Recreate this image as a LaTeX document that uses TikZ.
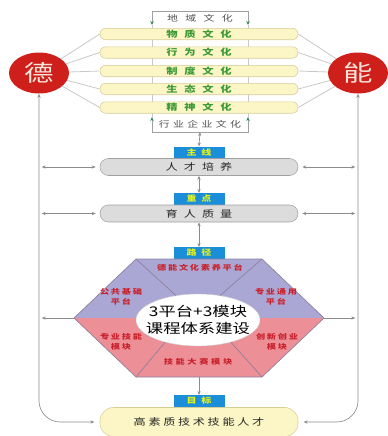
\documentclass[tikz,border=0pt]{standalone}
\usepackage{fontspec}
\usepackage{tikz}
\usetikzlibrary{arrows.meta,shapes.geometric,positioning}
\newfontfamily\cjk[FakeStretch=1.3]{Noto Sans CJK SC}
\newcommand\cgap[1][5pt]{\hspace{#1}}

\definecolor{barfill}{HTML}{FCF6C6}
\definecolor{barline}{HTML}{D6CC98}
\definecolor{cultgreen}{HTML}{3C9A35}
\definecolor{circred}{HTML}{CF1F1B}
\definecolor{sealtext}{HTML}{F8E6DC}
\definecolor{greyfill}{HTML}{DCDCDC}
\definecolor{greyline}{HTML}{A0A0A0}
\definecolor{spokegrey}{HTML}{C8C8C8}
\definecolor{linkgrey}{HTML}{8C8C8C}
\definecolor{tagblue}{HTML}{1A8ED8}
\definecolor{tagtext}{HTML}{E6F21A}
\definecolor{tipgreen}{HTML}{2E8B57}
\definecolor{hexpurple}{HTML}{ABA7D4}
\definecolor{hexpink}{HTML}{EC8F97}
\definecolor{hexline}{HTML}{8E7F9C}
\definecolor{labelred}{HTML}{C9212B}
\definecolor{regiongrey}{HTML}{505050}

\begin{document}
\begin{tikzpicture}[x=0.75pt,y=0.75pt,yscale=-1,xscale=1,
    culture/.style={draw=barline, fill=barfill, rounded corners=4.3pt, minimum width=148.5pt, minimum height=8.6pt, inner sep=0pt, text=cultgreen, font=\cjk\bfseries\fontsize{6.5}{7}\selectfont},
    corebar/.style={draw=greyline, fill=greyfill, rounded corners=6.3pt, minimum width=148.5pt, minimum height=12.75pt, inner sep=0pt, text=black!85, font=\cjk\fontsize{7}{8}\selectfont},
    finalbox/.style={draw=barline, fill=barfill, rounded corners=10pt, minimum width=148.5pt, minimum height=21.75pt, inner sep=0pt, text=black!85, font=\cjk\fontsize{7}{8}\selectfont},
    tagbox/.style={fill=tagblue, minimum width=38.25pt, minimum height=8.6pt, inner sep=0pt, text=tagtext, font=\cjk\bfseries\fontsize{5.8}{6}\selectfont},
    sealnode/.style={ellipse, fill=circred, minimum width=45pt, minimum height=30.75pt, inner sep=0pt, text=sealtext, font=\cjk\fontsize{17}{18}\selectfont},
    partlabel/.style={text=labelred, align=center, inner sep=0pt, font=\cjk\bfseries\fontsize{5.3}{7.5}\selectfont},
    greytext/.style={inner sep=0pt, text=regiongrey, font=\cjk\fontsize{6.3}{7}\selectfont},
    spoke/.style={draw=spokegrey, line width=0.6pt},
    bracket/.style={draw=greyline, line width=0.6pt, {Stealth[length=3pt,width=2.6pt,color=tipgreen]}-{Stealth[length=3pt,width=2.6pt,color=tipgreen]}},
    dlink/.style={draw=linkgrey, line width=0.5pt, {Stealth[length=3pt,width=2.4pt]}-{Stealth[length=3pt,width=2.4pt]}},
    slink/.style={draw=linkgrey, line width=0.5pt, -{Stealth[length=3pt,width=2.4pt]}},
    hexedge/.style={draw=hexline, line width=0.5pt}]
    \useasboundingbox (0,0) rectangle (388,436);

    %Shape: culture brackets
    \coordinate (qa) at (152,25);
    \coordinate (qb) at (248,25);
    \coordinate (qc) at (152,117);
    \coordinate (qd) at (248,117);
    \coordinate (qe) at (200,132);
    \draw[draw=spokegrey, line width=0.6pt] (qa) -- (qc);
    \draw[draw=spokegrey, line width=0.6pt] (qb) -- (qd);
    \draw[bracket] (qa) -- ++(0,-14) -| (qb);
    \draw[bracket] (qc) -- ++(0,15) -| (qd);

    % Text Node
    \node[greytext] (region) at (200,18) {地\cgap[5.5pt]域\cgap[5.5pt]文\cgap[5.5pt]化};
    \node[greytext] (industry) at (200,124.5) {行\cgap[2.5pt]业\cgap[2.5pt]企\cgap[2.5pt]业\cgap[2.5pt]文\cgap[2.5pt]化};

    %Shape: culture bars
    \node[culture] (wuzhi) at (199,34) {物\cgap 质\cgap 文\cgap 化};
    \node[culture] (xingwei) at (199,52.5) {行\cgap 为\cgap 文\cgap 化};
    \node[culture] (zhidu) at (199,71) {制\cgap 度\cgap 文\cgap 化};
    \node[culture] (shengtai) at (199,89) {生\cgap 态\cgap 文\cgap 化};
    \node[culture] (jingshen) at (199,107.5) {精\cgap 神\cgap 文\cgap 化};

    %Shape: seals
    \node[sealnode] (de) at (39,73) {德};
    \node[sealnode] (neng) at (358,73) {能};
    \foreach \b in {wuzhi,xingwei,zhidu,shengtai,jingshen}{
        \draw[spoke] (de) -- (\b.west);
        \draw[spoke] (neng) -- (\b.east);
    }

    %Shape: main chain
    \node[tagbox] (mainline) at (199,152.5) {主\cgap[3.5pt]线};
    \node[corebar] (talent) at (199,167) {人\cgap[4.5pt]才\cgap[4.5pt]培\cgap[4.5pt]养};
    \node[tagbox] (focus) at (199,199) {重\cgap[3.5pt]点};
    \node[corebar] (quality) at (199,213.5) {育\cgap[4.5pt]人\cgap[4.5pt]质\cgap[4.5pt]量};
    \node[tagbox] (route) at (199,253) {路\cgap[3.5pt]径};
    \node[tagbox] (goal) at (199,401) {目\cgap[3.5pt]标};
    \node[finalbox] (talents) at (199,422) {高\cgap[2pt]素\cgap[2pt]质\cgap[2pt]技\cgap[2pt]术\cgap[2pt]技\cgap[2pt]能\cgap[2pt]人\cgap[2pt]才};

    %Shape: hexagon
    \coordinate (hl) at (74,318);
    \coordinate (htl) at (136,259);
    \coordinate (htr) at (262,259);
    \coordinate (hr) at (324,318);
    \coordinate (hbr) at (262,377);
    \coordinate (hbl) at (136,377);
    \coordinate (hb) at (199,377);
    \fill[hexpurple] (hl) -- (htl) -- (htr) -- (hr) -- cycle;
    \fill[hexpink] (hl) -- (hr) -- (hbr) -- (hbl) -- cycle;
    \draw[hexedge] (hl) -- (htl) -- (htr) -- (hr) -- (hbr) -- (hbl) -- cycle;
    \node[ellipse, fill=white, draw=white!80!black, line width=0.3pt, minimum width=93pt, minimum height=39pt, inner sep=0pt] (core) at (198,320) {};
    \draw[hexedge] (htl) -- (core.132);
    \draw[hexedge] (htr) -- (core.48);
    \draw[hexedge] (hbl) -- (core.214);
    \draw[hexedge] (hbr) -- (core.326);
    \node[align=center, inner sep=0pt, font=\cjk\fontsize{10}{13}\selectfont] (coretitle) at (core) {3平台+3模块\\课程体系建设};

    % Text Node
    \node[partlabel] (moral) at (200,268) {德\cgap[1.3pt]能\cgap[1.3pt]文\cgap[1.3pt]化\cgap[1.3pt]素\cgap[1.3pt]养\cgap[1.3pt]平\cgap[1.3pt]台};
    \node[partlabel] (basic) at (121,297) {公\cgap[1.3pt]共\cgap[1.3pt]基\cgap[1.3pt]础\\平\cgap[1.3pt]台};
    \node[partlabel] (general) at (276,297) {专\cgap[1.3pt]业\cgap[1.3pt]通\cgap[1.3pt]用\\平\cgap[1.3pt]台};
    \node[partlabel] (skill) at (121,342) {专\cgap[1.3pt]业\cgap[1.3pt]技\cgap[1.3pt]能\\模\cgap[1.3pt]块};
    \node[partlabel] (innov) at (277,342) {创\cgap[1.3pt]新\cgap[1.3pt]创\cgap[1.3pt]业\\模\cgap[1.3pt]块};
    \node[partlabel] (contest) at (198,362) {技\cgap[2pt]能\cgap[2pt]大\cgap[2pt]赛\cgap[2pt]模\cgap[2pt]块};

    %Straight Lines
    \draw[dlink] (qe) -- (mainline.north);
    \draw[dlink] (talent.south) -- (focus.north);
    \draw[dlink] (quality.south) -- (route.north);
    \draw[slink] (hb) -- (goal.north);
    \draw[dlink, shorten <=2pt, shorten >=3pt] (de.south |- talent.west) -- (talent.west);
    \draw[dlink, shorten <=3pt, shorten >=2pt] (talent.east) -- (neng.south |- talent.east);
    \draw[dlink, shorten <=2pt, shorten >=3pt] (de.south |- quality.west) -- (quality.west);
    \draw[dlink, shorten <=3pt, shorten >=2pt] (quality.east) -- (neng.south |- quality.east);
    \draw[slink, shorten >=2pt] (hl) -- (de.south |- hl);
    \draw[slink, shorten >=2pt] (hr) -- (neng.south |- hr);

    %Curve Lines
    \draw[dlink, rounded corners=16pt, shorten >=4pt] (de.south) |- (talents.west);
    \draw[dlink, rounded corners=16pt, shorten >=4pt] (neng.south) |- (talents.east);
\end{tikzpicture}
\end{document}
